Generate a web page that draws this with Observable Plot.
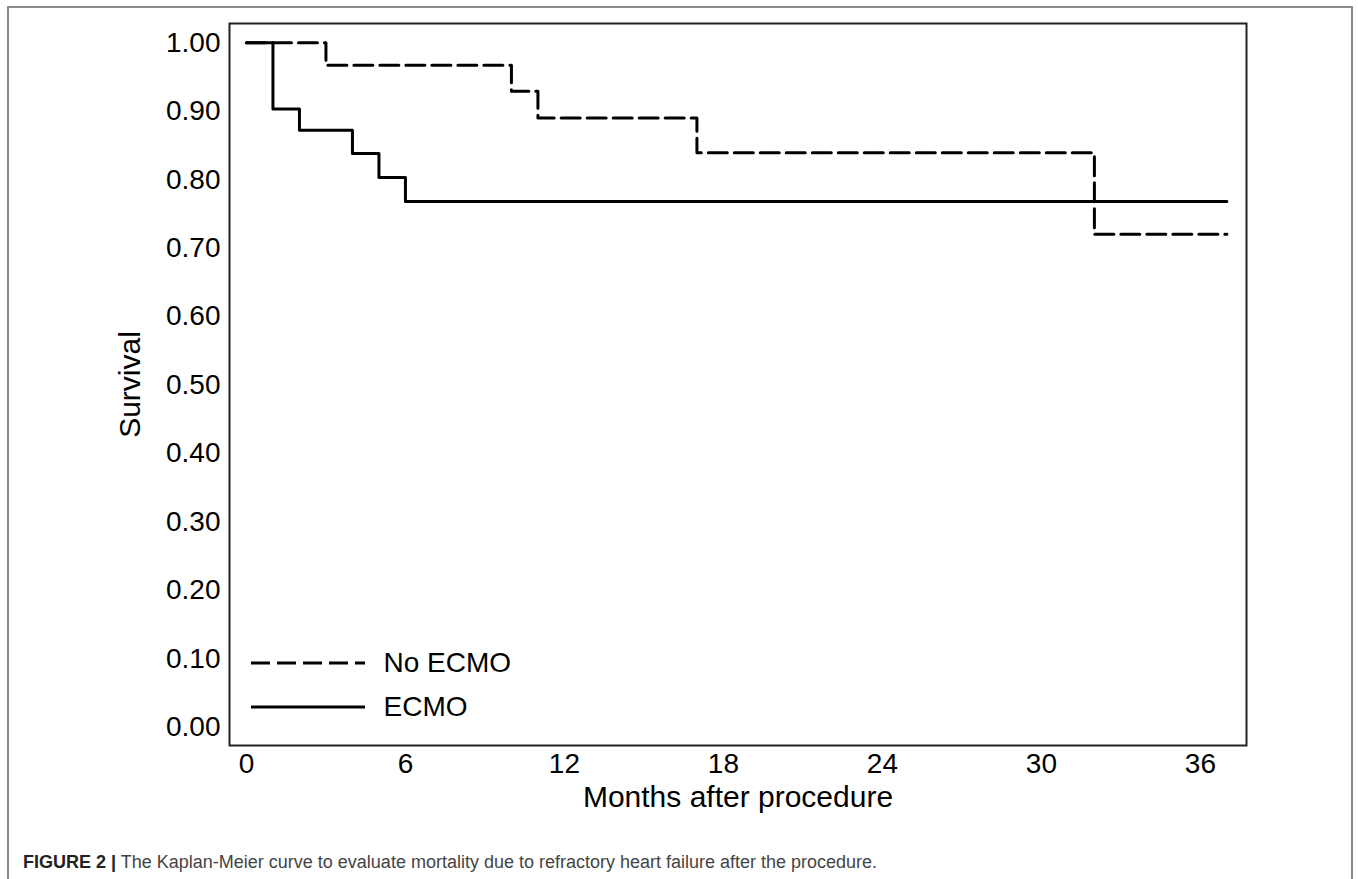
<!DOCTYPE html>
<html>
<head>
<meta charset="utf-8">
<script src="https://cdn.jsdelivr.net/npm/d3@7"></script>
<script src="https://cdn.jsdelivr.net/npm/@observablehq/plot@0.6"></script>
<style>
  html, body { margin: 0; padding: 0; background: #fff; }
  #wrap { position: relative; width: 1358px; height: 879px; overflow: hidden; background: #fff; }
  #border { position: absolute; left: 7px; top: 6px; width: 1346px; height: 1000px; border: 2px solid #8a8a8a; box-sizing: border-box; }
  #chart { position: absolute; left: 0; top: 0; }
  #caption { position: absolute; left: 23px; top: 851px; font-family: "Liberation Sans", Arial, sans-serif; font-size: 18px; line-height: 22px; color: #444; white-space: nowrap; }
  #caption b { color: #222; }
</style>
</head>
<body>
<div id="wrap">
  <div id="border"></div>
  <div id="chart"></div>
  <div id="caption"><b>FIGURE 2 |</b> The Kaplan-Meier curve to evaluate mortality due to refractory heart failure after the procedure.</div>
</div>
<script>
// ---- data ----
const seriesNames = ["No ECMO", "ECMO"];
const noEcmoMonths = [0, 3, 10, 11, 17, 32, 37];
const noEcmoSurvival = [1.00, 0.967, 0.929, 0.890, 0.839, 0.720, 0.720];
const ecmoMonths = [0, 1, 2, 4, 5, 6, 37];
const ecmoSurvival = [1.00, 0.903, 0.872, 0.838, 0.803, 0.768, 0.768];
const xTicks = [0, 6, 12, 18, 24, 30, 36];
const yTicks = [0, 0.1, 0.2, 0.3, 0.4, 0.5, 0.6, 0.7, 0.8, 0.9, 1.0];
const xLabel = "Months after procedure";
const yLabel = "Survival";

const noEcmo = noEcmoMonths.map((m, i) => ({month: m, survival: noEcmoSurvival[i]}));
const ecmo = ecmoMonths.map((m, i) => ({month: m, survival: ecmoSurvival[i]}));

const FONT = "'Liberation Sans', Arial, sans-serif";
const DASH = "19,7";
const legendDy = [-82, -38];

const plot = Plot.plot({
  width: 1358,
  height: 830,
  marginLeft: 229,
  marginRight: 112,
  marginTop: 23,
  marginBottom: 85,
  style: {fontFamily: FONT, fontSize: "28px", color: "#000", background: "transparent", overflow: "visible"},
  x: {domain: [-0.64, 37.74]},
  y: {domain: [-0.027, 1.028]},
  marks: [
    Plot.axisX(xTicks, {tickSize: 0, tickPadding: 8, label: null, fontSize: 28}),
    Plot.axisY(yTicks, {tickSize: 0, tickPadding: 9, label: null, fontSize: 28, tickFormat: d3.format(".2f")}),
    Plot.line(noEcmo, {x: "month", y: "survival", curve: "step-after", stroke: "#000", strokeWidth: 3, strokeDasharray: DASH}),
    Plot.line(ecmo, {x: "month", y: "survival", curve: "step-after", stroke: "#000", strokeWidth: 3}),
    Plot.frame({stroke: "#222", strokeWidth: 2}),
    Plot.text([xLabel], {frameAnchor: "bottom", dy: 52, text: d => d, fontSize: 30, lineAnchor: "middle", fill: "#000"}),
    Plot.text([yLabel], {frameAnchor: "left", dx: -99, text: d => d, fontSize: 30, rotate: -90, lineAnchor: "middle", textAnchor: "middle", fill: "#000"}),
    ...seriesNames.map((name, i) =>
      Plot.text([name], {frameAnchor: "bottom-left", dx: 154, dy: legendDy[i], text: d => d, fontSize: 28, textAnchor: "start", lineAnchor: "middle", fill: "#000"}))
  ]
});

document.getElementById("chart").appendChild(plot);

// legend line samples, positioned relative to the frame
const svg = d3.select(plot);
const fx = 229, fb = 830 - 85;
const leg = svg.append("g").attr("stroke", "#000").attr("stroke-width", 3);
seriesNames.forEach((name, i) => {
  leg.append("line")
    .attr("x1", fx + 22).attr("x2", fx + 136)
    .attr("y1", fb + legendDy[i]).attr("y2", fb + legendDy[i])
    .attr("stroke-dasharray", i === 0 ? DASH : null);
});
</script>
</body>
</html>
